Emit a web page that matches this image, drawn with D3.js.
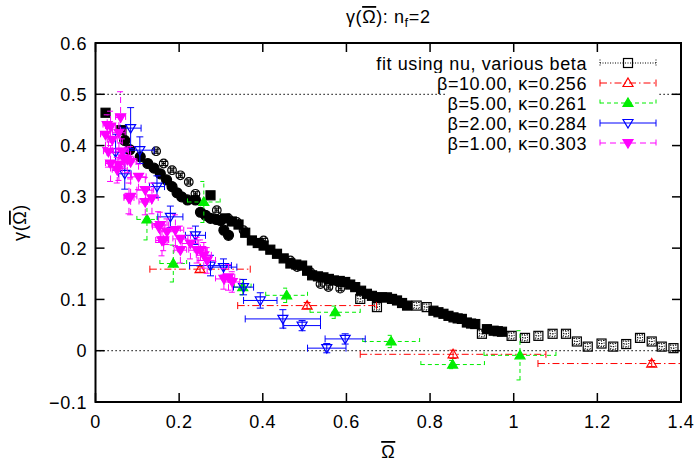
<!DOCTYPE html>
<html>
<head>
<meta charset="utf-8">
<style>
  body { margin: 0; background: #fff; }
  text { font-family: "Liberation Sans", Arial, Helvetica, sans-serif; font-size: 18px; letter-spacing: 0.6px; fill: #000; }
</style>
<script src="https://d3js.org/d3.v7.min.js"></script>
</head>
<body>
<script>
// ---- data: [x, y, dx, dy] for series with error bars, [x, y] otherwise ----
var fitSquares = [
  [0.633, 0.101, 0.006, 0.006], [0.673, 0.085, 0.006, 0.006], [0.768, 0.088, 0.006, 0.006],
  [0.792, 0.085, 0.006, 0.006], [0.924, 0.033, 0.006, 0.006], [0.995, 0.029, 0.006, 0.006],
  [1.027, 0.025, 0.006, 0.006], [1.059, 0.029, 0.006, 0.006], [1.093, 0.033, 0.006, 0.006],
  [1.125, 0.033, 0.006, 0.006], [1.151, 0.018, 0.006, 0.006], [1.177, 0.008, 0.006, 0.006],
  [1.21, 0.014, 0.006, 0.006], [1.238, 0.008, 0.006, 0.006], [1.269, 0.013, 0.006, 0.006],
  [1.302, 0.025, 0.006, 0.006], [1.33, 0.018, 0.006, 0.006], [1.354, 0.008, 0.006, 0.006],
  [1.382, 0.005, 0.006, 0.006]
];
var blackSquares = [
  [0.024, 0.464], [0.062, 0.43], [0.275, 0.303], [0.31, 0.258], [0.326, 0.252], [0.342, 0.246],
  [0.358, 0.23], [0.374, 0.215], [0.388, 0.21], [0.402, 0.205], [0.418, 0.197], [0.434, 0.189],
  [0.45, 0.18], [0.466, 0.17], [0.48, 0.168], [0.494, 0.166], [0.506, 0.156], [0.518, 0.147],
  [0.532, 0.145], [0.545, 0.143], [0.558, 0.14], [0.57, 0.137], [0.584, 0.136], [0.597, 0.134],
  [0.609, 0.129], [0.621, 0.124], [0.635, 0.117], [0.649, 0.111], [0.661, 0.107], [0.673, 0.104],
  [0.685, 0.104], [0.697, 0.104], [0.709, 0.101], [0.721, 0.098], [0.733, 0.093], [0.745, 0.088],
  [0.808, 0.078], [0.82, 0.075], [0.832, 0.072], [0.844, 0.068], [0.856, 0.065], [0.866, 0.063],
  [0.876, 0.062], [0.888, 0.055], [0.898, 0.053], [0.908, 0.052], [0.936, 0.042], [0.952, 0.039],
  [0.962, 0.038], [0.972, 0.037]
];
var blackDots = [
  [0.07, 0.41], [0.082, 0.392], [0.107, 0.378], [0.125, 0.365], [0.14, 0.356], [0.155, 0.345],
  [0.17, 0.333], [0.183, 0.32], [0.195, 0.308], [0.206, 0.3], [0.22, 0.294], [0.239, 0.294],
  [0.251, 0.27], [0.263, 0.264], [0.275, 0.258], [0.289, 0.256], [0.299, 0.254], [0.307, 0.235],
  [0.318, 0.225]
];
var openCircles = [
  [0.145, 0.389, 0.004, 0.004], [0.163, 0.365, 0.004, 0.004], [0.183, 0.352, 0.004, 0.004],
  [0.203, 0.342, 0.004, 0.004], [0.223, 0.329, 0.004, 0.004], [0.239, 0.306, 0.004, 0.004],
  [0.29, 0.274, 0.004, 0.004], [0.318, 0.258, 0.004, 0.004], [0.338, 0.251, 0.004, 0.004],
  [0.354, 0.235, 0.004, 0.004], [0.402, 0.215, 0.004, 0.004], [0.466, 0.176, 0.004, 0.004],
  [0.482, 0.163, 0.004, 0.004], [0.514, 0.153, 0.004, 0.004], [0.538, 0.13, 0.004, 0.004],
  [0.557, 0.124, 0.004, 0.004], [0.585, 0.121, 0.004, 0.004]
];
var beta10 = [
  [0.25, 0.159, 0.12, 0.006], [0.506, 0.088, 0.166, 0.006],
  [0.855, -0.007, 0.222, 0.008], [1.33, -0.025, 0.272, 0.006]
];
var beta5 = [
  [0.123, 0.256, 0.024, 0.04], [0.186, 0.17, 0.032, 0.036], [0.259, 0.29, 0.039, 0.04],
  [0.352, 0.124, 0.02, 0.015], [0.457, 0.108, 0.05, 0.014], [0.573, 0.075, 0.06, 0.012],
  [0.707, 0.018, 0.068, 0.012], [0.854, -0.027, 0.076, 0.008], [1.015, -0.009, 0.086, 0.048]
];
var beta2 = [
  [0.084, 0.434, 0.025, 0.04], [0.106, 0.391, 0.034, 0.026], [0.048, 0.387, 0.02, 0.035],
  [0.07, 0.345, 0.015, 0.03], [0.147, 0.32, 0.018, 0.021], [0.179, 0.261, 0.03, 0.021],
  [0.239, 0.225, 0.024, 0.018], [0.275, 0.166, 0.05, 0.02], [0.306, 0.163, 0.032, 0.016],
  [0.354, 0.124, 0.024, 0.015], [0.394, 0.098, 0.04, 0.015], [0.448, 0.062, 0.09, 0.018],
  [0.494, 0.049, 0.044, 0.01], [0.553, 0.005, 0.046, 0.009], [0.597, 0.023, 0.048, 0.01]
];
var beta1 = [
  [0.024, 0.421, 0.012, 0.025], [0.028, 0.44, 0.01, 0.02], [0.036, 0.437, 0.012, 0.03],
  [0.06, 0.455, 0.012, 0.05], [0.056, 0.425, 0.015, 0.03], [0.04, 0.411, 0.012, 0.025],
  [0.031, 0.388, 0.012, 0.03], [0.064, 0.388, 0.015, 0.025], [0.036, 0.365, 0.012, 0.035],
  [0.056, 0.362, 0.015, 0.03], [0.076, 0.372, 0.015, 0.025], [0.068, 0.375, 0.012, 0.02],
  [0.052, 0.352, 0.012, 0.025], [0.084, 0.368, 0.015, 0.03], [0.103, 0.339, 0.018, 0.025],
  [0.084, 0.3, 0.015, 0.035], [0.08, 0.297, 0.012, 0.03], [0.119, 0.313, 0.02, 0.025],
  [0.119, 0.29, 0.015, 0.025], [0.135, 0.297, 0.015, 0.03], [0.151, 0.241, 0.015, 0.03],
  [0.155, 0.245, 0.02, 0.025], [0.159, 0.215, 0.015, 0.03], [0.171, 0.232, 0.018, 0.025],
  [0.191, 0.235, 0.02, 0.03], [0.163, 0.215, 0.012, 0.02], [0.203, 0.218, 0.018, 0.025],
  [0.227, 0.209, 0.02, 0.03], [0.203, 0.196, 0.015, 0.025], [0.243, 0.196, 0.02, 0.025],
  [0.251, 0.196, 0.015, 0.02], [0.259, 0.186, 0.018, 0.025], [0.267, 0.176, 0.02, 0.025],
  [0.307, 0.14, 0.02, 0.02], [0.318, 0.143, 0.015, 0.025], [0.327, 0.134, 0.018, 0.02]
];
var xTicks = [0, 0.2, 0.4, 0.6, 0.8, 1, 1.2, 1.4];
var yTicks = [-0.1, 0, 0.1, 0.2, 0.3, 0.4, 0.5, 0.6];
var refLines = [0.5, 0];
var legendLabels = ["fit using nu, various beta", "\u03b2=10.00, \u03ba=0.256", "\u03b2=5.00, \u03ba=0.261",
                    "\u03b2=2.00, \u03ba=0.284", "\u03b2=1.00, \u03ba=0.303"];

// ---- layout ----
var width = 699, height = 462;
var plotL = 95.5, plotR = 681, plotT = 43, plotB = 402;
var cap = 3.5;

var x = d3.scaleLinear().domain([0, 1.4]).range([plotL, plotR]);
var y = d3.scaleLinear().domain([-0.1, 0.6]).range([plotB, plotT]);

var svg = d3.select("body").append("svg")
    .attr("width", width)
    .attr("height", height);

svg.append("defs").append("clipPath").attr("id", "plotclip")
  .append("rect").attr("x", plotL).attr("y", plotT).attr("width", plotR - plotL).attr("height", plotB - plotT);

// dotted reference lines at 0.5 and 0
svg.append("g").selectAll("line").data(refLines).enter().append("line")
    .attr("x1", plotL).attr("x2", plotR)
    .attr("y1", function(d) { return y(d); }).attr("y2", function(d) { return y(d); })
    .attr("stroke", "#000").attr("stroke-width", 1.2).attr("stroke-dasharray", "1.2,2.8");

// marker shapes
function marker(g, shape, color, px, py) {
  var s = 4.5;
  if (shape == "sq" || shape == "sqf") {
    g.append("rect").attr("x", px - s).attr("y", py - s).attr("width", 2 * s).attr("height", 2 * s)
      .attr("fill", shape == "sqf" ? color : "none").attr("stroke", color).attr("stroke-width", 1.2);
  } else if (shape == "circ" || shape == "circf") {
    g.append("circle").attr("cx", px).attr("cy", py).attr("r", shape == "circf" ? 5 : 4.3)
      .attr("fill", shape == "circf" ? color : "none").attr("stroke", color).attr("stroke-width", 1.2);
  } else {
    var up = shape.indexOf("up") == 0;
    var filled = shape.slice(-1) == "f";
    var pts = up ? [[px, py - 5], [px + 5, py + 3.5], [px - 5, py + 3.5]]
                 : [[px, py + 5], [px + 5, py - 3.5], [px - 5, py - 3.5]];
    g.append("path").attr("d", "M" + pts.join("L") + "Z")
      .attr("fill", filled ? color : "none").attr("stroke", color).attr("stroke-width", 1.2);
  }
}

function errorBars(g, d, color, dash) {
  var px = x(d[0]), py = y(d[1]);
  var x0 = x(d[0] - d[2]), x1 = x(d[0] + d[2]);
  var y0 = y(d[1] - d[3]), y1 = y(d[1] + d[3]);
  var segs = [
    [x0, py, x1, py], [x0, py - cap, x0, py + cap], [x1, py - cap, x1, py + cap],
    [px, y0, px, y1], [px - cap, y0, px + cap, y0], [px - cap, y1, px + cap, y1]
  ];
  g.selectAll(null).data(segs).enter().append("line")
    .attr("x1", function(s) { return s[0]; }).attr("y1", function(s) { return s[1]; })
    .attr("x2", function(s) { return s[2]; }).attr("y2", function(s) { return s[3]; })
    .attr("stroke", color).attr("stroke-width", 1)
    .attr("stroke-dasharray", dash);
}

var series = [
  {data: blackDots, shape: "circf", color: "#000", dash: null, bars: false},
  {data: blackSquares, shape: "sqf", color: "#000", dash: null, bars: false},
  {data: openCircles, shape: "circ", color: "#000", dash: null, bars: true},
  {data: fitSquares, shape: "sq", color: "#000", dash: "1,1.5", bars: true},
  {data: beta10, shape: "up", color: "#ff0000", dash: "7,3,1.5,3", bars: true},
  {data: beta5, shape: "upf", color: "#00ee00", dash: "4,3", bars: true},
  {data: beta2, shape: "down", color: "#0000ff", dash: null, bars: true},
  {data: beta1, shape: "downf", color: "#ff00ff", dash: "6,4", bars: true}
];

var plot = svg.append("g").attr("clip-path", "url(#plotclip)");
series.forEach(function(s) {
  var g = plot.append("g");
  s.data.forEach(function(d) {
    if (s.bars) errorBars(g, d, s.color, s.dash);
    marker(g, s.shape, s.color, x(d[0]), y(d[1]));
  });
});

// ---- frame and ticks (gnuplot style: inward, mirrored) ----
var frame = svg.append("g").attr("stroke", "#000").attr("stroke-width", 1.5);
xTicks.forEach(function(t) {
  frame.append("line").attr("x1", x(t)).attr("x2", x(t)).attr("y1", plotB).attr("y2", plotB - 9);
  frame.append("line").attr("x1", x(t)).attr("x2", x(t)).attr("y1", plotT).attr("y2", plotT + 9);
});
yTicks.forEach(function(t) {
  frame.append("line").attr("x1", plotL).attr("x2", plotL + 9).attr("y1", y(t)).attr("y2", y(t));
  frame.append("line").attr("x1", plotR).attr("x2", plotR - 9).attr("y1", y(t)).attr("y2", y(t));
});
frame.append("rect").attr("x", plotL).attr("y", plotT).attr("width", plotR - plotL).attr("height", plotB - plotT)
  .attr("fill", "none").attr("stroke-width", 2);

svg.append("g").selectAll("text").data(xTicks).enter().append("text")
    .attr("x", function(d) { return x(d); }).attr("y", 428)
    .attr("text-anchor", "middle")
    .text(function(d) { return d3.format("")(d); });
svg.append("g").selectAll("text").data(yTicks).enter().append("text")
    .attr("x", 87).attr("y", function(d) { return y(d) + 6.5; })
    .attr("text-anchor", "end")
    .text(function(d) { return d == 0 ? "0" : d3.format(".1f")(d); });

// ---- titles ----
var title = svg.append("text").attr("x", (plotL + plotR) / 2).attr("y", 23).attr("text-anchor", "middle");
title.append("tspan").text("\u03b3(");
title.append("tspan").style("text-decoration", "overline").text("\u03a9");
title.append("tspan").text("): n");
title.append("tspan").attr("dy", 4).style("font-size", "13px").text("f");
title.append("tspan").attr("dy", -4).text("=2");

var ylab = svg.append("text").attr("transform", "translate(26," + ((plotT + plotB) / 2) + ") rotate(-90)")
    .attr("text-anchor", "middle");
ylab.append("tspan").text("\u03b3(");
ylab.append("tspan").style("text-decoration", "overline").text("\u03a9");
ylab.append("tspan").text(")");

svg.append("text").attr("x", (plotL + plotR) / 2).attr("y", 458).attr("text-anchor", "middle")
    .style("text-decoration", "overline").text("\u03a9");

// ---- legend ----
var legend = svg.append("g");
var legendSeries = [series[3], series[4], series[5], series[6], series[7]];
legendLabels.forEach(function(lbl, i) {
  var cy = 63 + i * 20;
  var row = legend.append("g");
  var bg = row.append("rect").attr("fill", "#fff");
  var t = row.append("text").attr("x", 587).attr("y", cy + 6.5).attr("text-anchor", "end").text(lbl);
  var bb = t.node().getBBox();
  bg.attr("x", bb.x - 2).attr("y", cy - 10).attr("width", 657 - bb.x + 2).attr("height", 20);
  var s = legendSeries[i];
  var segs = [[600, cy, 656, cy], [600, cy - cap, 600, cy + cap], [656, cy - cap, 656, cy + cap]];
  row.selectAll(null).data(segs).enter().append("line")
    .attr("x1", function(d) { return d[0]; }).attr("y1", function(d) { return d[1]; })
    .attr("x2", function(d) { return d[2]; }).attr("y2", function(d) { return d[3]; })
    .attr("stroke", s.color).attr("stroke-width", 1).attr("stroke-dasharray", s.dash);
  marker(row, s.shape, s.color, 628, cy);
});
</script>
</body>
</html>
